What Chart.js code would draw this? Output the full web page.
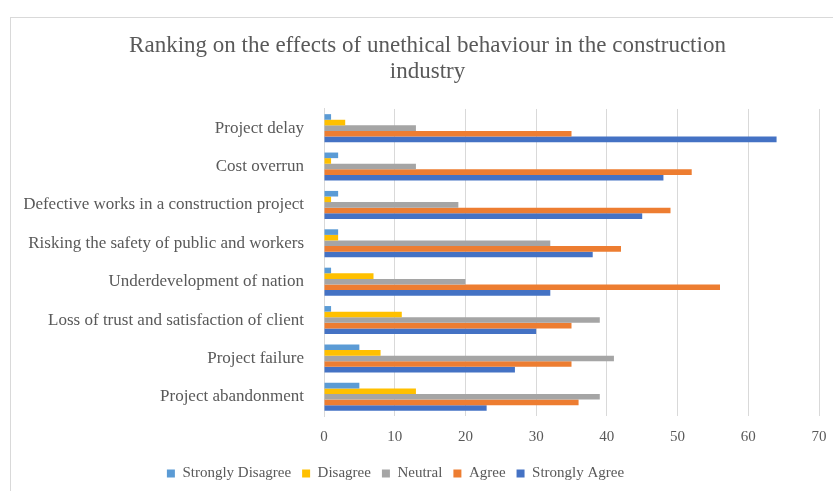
<!DOCTYPE html>
<html>
<head>
<meta charset="utf-8">
<script src="https://cdn.jsdelivr.net/npm/chart.js@4"></script>
<style>
  html, body { margin: 0; padding: 0; background: #fff; overflow: hidden; }
  #frame { position: absolute; left: 10px; top: 17px; width: 900px; height: 600px; border: 1px solid #d9d9d9; }
  #wrap { position: absolute; left: 0; top: 0; width: 833px; height: 491px; }
</style>
</head>
<body>
<div id="frame"></div>
<div id="wrap"><canvas id="effectsChart"></canvas></div>
<script>
// Effects of unethical behaviour - counts per response
const categories = [
    'Project delay',
    'Cost overrun',
    'Defective works in a construction project',
    'Risking the safety of public and workers',
    'Underdevelopment of nation',
    'Loss of trust and satisfaction of client',
    'Project failure',
    'Project abandonment'
];
const stronglyDisagree = [1, 2, 2, 2, 1, 1, 5, 5];
const disagree         = [3, 1, 1, 2, 7, 11, 8, 13];
const neutral          = [13, 13, 19, 32, 20, 39, 41, 39];
const agree            = [35, 52, 49, 42, 56, 35, 35, 36];
const stronglyAgree    = [64, 48, 45, 38, 32, 30, 27, 23];
const xTicks = [0, 10, 20, 30, 40, 50, 60, 70];

const serif = '"Liberation Serif", "Times New Roman", serif';
const grey = '#595959';

// legend sits a bit left of the title in the original
const legendShift = {
    id: 'legendShift',
    afterLayout(chart) {
        chart.legend.left -= 32;
        chart.legend.right -= 32;
    }
};

new Chart(document.getElementById('effectsChart'), {
    type: 'bar',
    data: {
        labels: categories,
        datasets: [
            { label: 'Strongly Disagree', data: stronglyDisagree, backgroundColor: '#5b9bd5' },
            { label: 'Disagree', data: disagree, backgroundColor: '#ffc000' },
            { label: 'Neutral', data: neutral, backgroundColor: '#a5a5a5' },
            { label: 'Agree', data: agree, backgroundColor: '#ed7d31' },
            { label: 'Strongly Agree', data: stronglyAgree, backgroundColor: '#4472c4' }
        ]
    },
    plugins: [legendShift],
    options: {
        indexAxis: 'y',
        responsive: true,
        maintainAspectRatio: false,
        animation: false,
        categoryPercentage: 0.73,
        barPercentage: 1,
        layout: { padding: { left: 24, right: 2, top: 0, bottom: 0 } },
        plugins: {
            title: {
                display: true,
                text: ['Ranking on the effects of unethical behaviour in the construction', 'industry'],
                color: grey,
                font: { family: serif, size: 23, weight: 'normal', lineHeight: 1.13 },
                padding: { top: 33, bottom: 24 }
            },
            legend: {
                position: 'bottom',
                labels: {
                    color: grey,
                    font: { family: serif, size: 15 },
                    boxWidth: 8,
                    boxHeight: 8,
                    padding: 11
                }
            },
            tooltip: { enabled: false }
        },
        scales: {
            x: {
                min: 0,
                max: 70,
                afterBuildTicks: (scale) => { scale.ticks = xTicks.map(v => ({ value: v })); },
                afterFit: (scale) => { scale.height = 39; scale.paddingRight = 14; },
                ticks: { color: grey, font: { family: serif, size: 15 }, padding: 12 },
                grid: { color: '#d9d9d9', drawTicks: false },
                border: { display: false }
            },
            y: {
                afterFit: (scale) => { scale.width = 300; },
                ticks: { color: grey, font: { family: serif, size: 17 }, padding: 12 },
                grid: { display: false },
                border: { display: true, color: '#d9d9d9' }
            }
        }
    }
});
</script>
</body>
</html>
